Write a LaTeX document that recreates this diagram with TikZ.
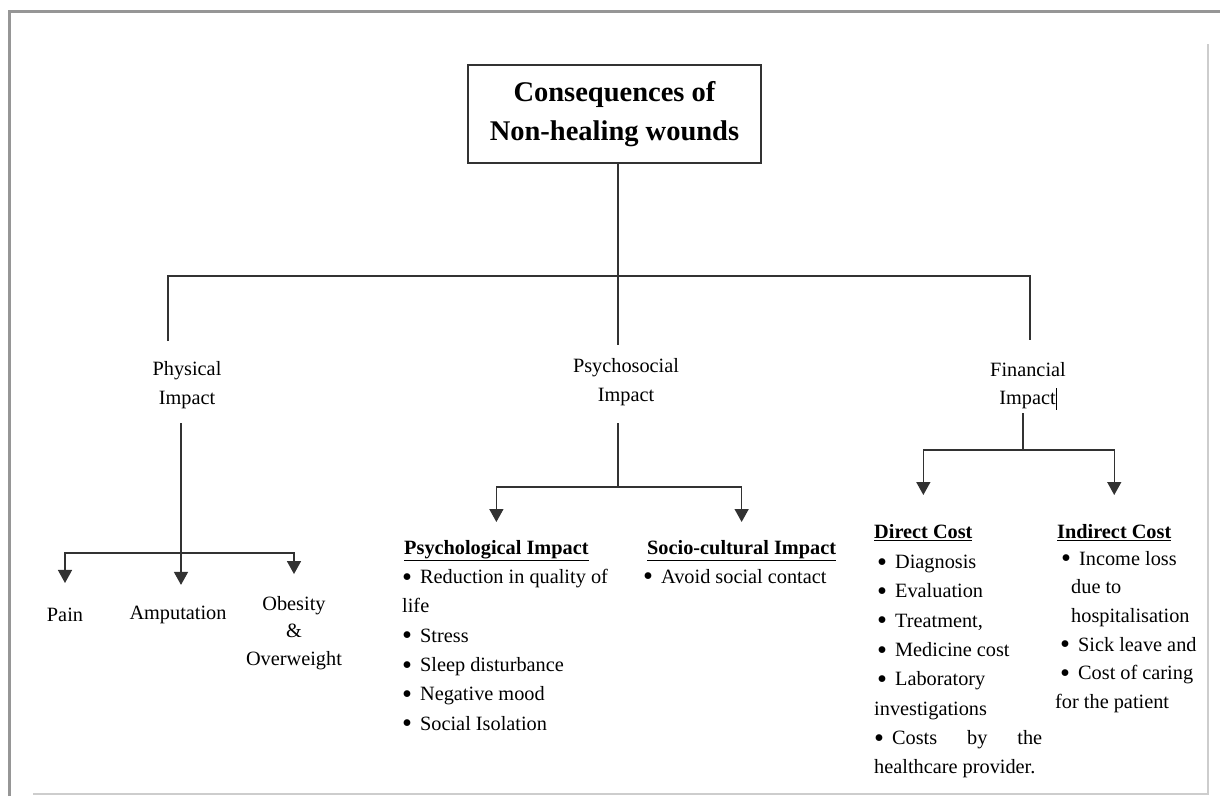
\documentclass[tikz,border=0pt]{standalone}
\usepackage{fontspec}
\setmainfont{Liberation Serif}
\usetikzlibrary{arrows.meta,calc}
\definecolor{framedark}{RGB}{150,150,150}
\definecolor{framelight}{RGB}{205,205,205}
\definecolor{linkclr}{RGB}{50,50,50}
\newcommand{\bodyfont}{\fontsize{20.3}{28.5}\selectfont}
\newcommand{\listfont}{\fontsize{20.3}{29.3}\selectfont}
\newcommand{\titlefont}{\fontsize{28.5}{39}\selectfont\bfseries}
\newcommand{\hd}[1]{\underline{\textbf{#1}}}
\newcommand{\bul}{\raisebox{-2.6pt}{\scalebox{1.4}{\textbullet}}\hspace{8pt}}
\tikzset{
  % connectors
  link/.style      = {draw=linkclr, line width=1.5pt},
  arrowlink/.style = {link, -{Triangle[width=14pt,length=13pt]}},
  % text
  lbl/.style       = {inner sep=0pt, align=center, font=\bodyfont},
  headlbl/.style   = {inner sep=0pt, anchor=north west, font=\listfont},
  listlbl/.style   = {inner sep=0pt, anchor=north west, align=left, font=\listfont},
  titlebox/.style  = {draw=linkclr, line width=1.5pt, inner sep=0pt,
                      minimum width=293pt, minimum height=98pt,
                      align=center, font=\titlefont},
}
\begin{document}
\begin{tikzpicture}[x=1pt, y=-1pt]
  \useasboundingbox (0,0) rectangle (1220,796);
  % frame
  \draw[framedark, line width=3pt] (9,796) -- (9,11) -- (1220,11);
  \draw[framelight, line width=1.5pt] (33,794) -- (1208,794) -- (1208,44);
  % top level
  \node[titlebox] (title) at (614.5,114) {Consequences of\\Non-healing wounds};
  \node[lbl] (phys) at (187,385) {Physical\\Impact};
  \node[lbl] (psy)  at (626,382) {Psychosocial\\Impact};
  \node[lbl] (fin)  at (1028,386) {Financial\\Impact\rule[-5pt]{0.9pt}{22pt}};
  \coordinate (hub)    at (618,276);
  \coordinate (physIn) at (168,341);
  \coordinate (psyIn)  at (618,345);
  \coordinate (finIn)  at (1030,340);
  \draw[link] (title.south -| hub) -- (hub);
  \draw[link] (physIn) |- (hub) -| (finIn);
  \draw[link] (hub) -- (psyIn);
  % physical impact
  \coordinate (physOut) at (181,423);
  \coordinate (physBar) at (181,553);
  \node[lbl] (pain)  at (65,615) {Pain};
  \node[lbl] (amput) at (178,615) {Amputation};
  \node[lbl, font=\fontsize{20.3}{27.5}\selectfont] (obese) at (294,633) {Obesity\\\&\\Overweight};
  \draw[arrowlink, shorten >=21pt] (physOut) -- (physOut |- amput.north);
  \draw[arrowlink, shorten >=25pt] (physBar) -| (pain.north);
  \draw[arrowlink, shorten >=22pt] (physBar) -| (obese.north);
  % psychosocial impact
  \coordinate (psyOut) at (618,423);
  \coordinate (psyBar) at (618,487);
  \node[headlbl] (psyhead) at (404,540) {\hd{Psychological Impact}};
  \node[headlbl] (sochead) at (647,540) {\hd{Socio-cultural Impact}};
  \draw[link] (psyOut) -- (psyBar);
  \draw[arrowlink, shorten >=18pt] (psyBar) -| (psyhead.north);
  \draw[arrowlink, shorten >=18pt] (psyBar) -| (sochead.north);
  \node[listlbl] (psylist) at (402,569) {\bul Reduction in quality of\\life\\\bul Stress\\\bul Sleep disturbance\\\bul Negative mood\\\bul Social Isolation};
  \node[listlbl] (soclist) at (643,569) {\bul Avoid social contact};
  % financial impact
  \coordinate (finOut) at (1023,413);
  \coordinate (finBar) at (1023,450);
  \node[headlbl] (dcost) at (874,524) {\hd{Direct Cost}};
  \node[headlbl] (icost) at (1057,524) {\hd{Indirect Cost}};
  \draw[link] (finOut) -- (finBar);
  \draw[arrowlink, shorten >=29pt] (finBar) -| (dcost.north);
  \draw[arrowlink, shorten >=29pt] (finBar) -| (icost.north);
  \node[listlbl] (dlist) at (874,555) {\hspace*{3pt}\bul Diagnosis\\\hspace*{3pt}\bul Evaluation\\\hspace*{3pt}\bul Treatment,\\\hspace*{3pt}\bul Medicine cost\\\hspace*{3pt}\bul Laboratory\\investigations\\\makebox[168pt][s]{\bul Costs by the}\\healthcare provider.};
  \node[listlbl, font=\fontsize{20.3}{28.6}\selectfont] (ilist) at (1055,551) {\hspace*{6pt}\bul Income loss\\\hspace*{16pt}due to\\\hspace*{16pt}hospitalisation\\\hspace*{5pt}\bul Sick leave and\\\hspace*{5pt}\bul Cost of caring\\for the patient};
\end{tikzpicture}
\end{document}
